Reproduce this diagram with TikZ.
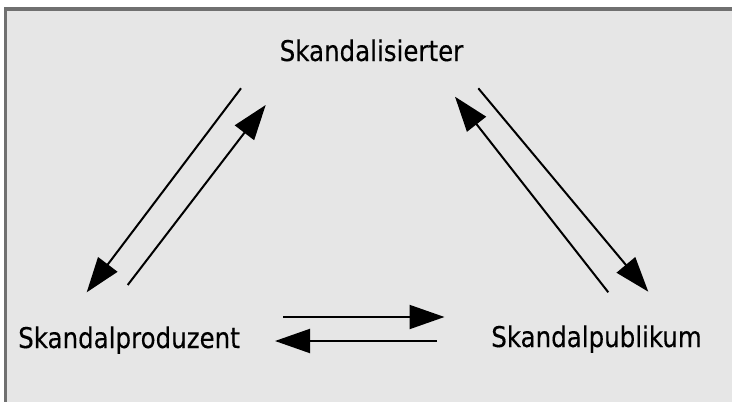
\documentclass[tikz,border=0pt]{standalone}
\usepackage{fontspec}
\setmainfont{DejaVu Sans}[FakeStretch=0.86,FakeBold=0.25]
\usetikzlibrary{arrows.meta}
\definecolor{bgfill}{HTML}{E6E6E6}
\definecolor{framegray}{HTML}{707070}
\begin{document}
\begin{tikzpicture}[x=1pt,y=-1pt,
  lbl/.style={anchor=base,inner sep=0pt,font=\fontsize{28.5}{34}\selectfont},
  arr/.style={line width=2pt,-{Triangle[length=35pt,width=24pt]}}]
\useasboundingbox (0,0) rectangle (732,402);
\clip (0,0) rectangle (732,402);
\fill[white] (0,0) rectangle (732,402);
\draw[line width=3.5pt,draw=framegray,fill=bgfill] (5.25,9.2) rectangle (745,415);
\node[lbl] (sk) at (371.5,61) {Skandalisierter};
\node[lbl] (prod) at (129,348) {Skandalproduzent};
\node[lbl] (pub) at (596.5,347) {Skandalpublikum};
% left pair
\coordinate (a1s) at (241,88.3);
\coordinate (a1e) at (86.7,292.3);
\coordinate (a2s) at (127.7,285);
\coordinate (a2e) at (265.7,105);
% right pair
\coordinate (b1s) at (478.3,88.3);
\coordinate (b1e) at (648.3,291.7);
\coordinate (b2s) at (608.3,292.3);
\coordinate (b2e) at (455,96.7);
% bottom pair
\coordinate (c1s) at (283,317);
\coordinate (c1e) at (444.5,317);
\coordinate (c2s) at (437,341);
\coordinate (c2e) at (275,341);
\draw[arr] (a1s) -- (a1e);
\draw[arr] (a2s) -- (a2e);
\draw[arr] (b1s) -- (b1e);
\draw[arr] (b2s) -- (b2e);
\draw[arr] (c1s) -- (c1e);
\draw[arr] (c2s) -- (c2e);
\end{tikzpicture}
\end{document}
